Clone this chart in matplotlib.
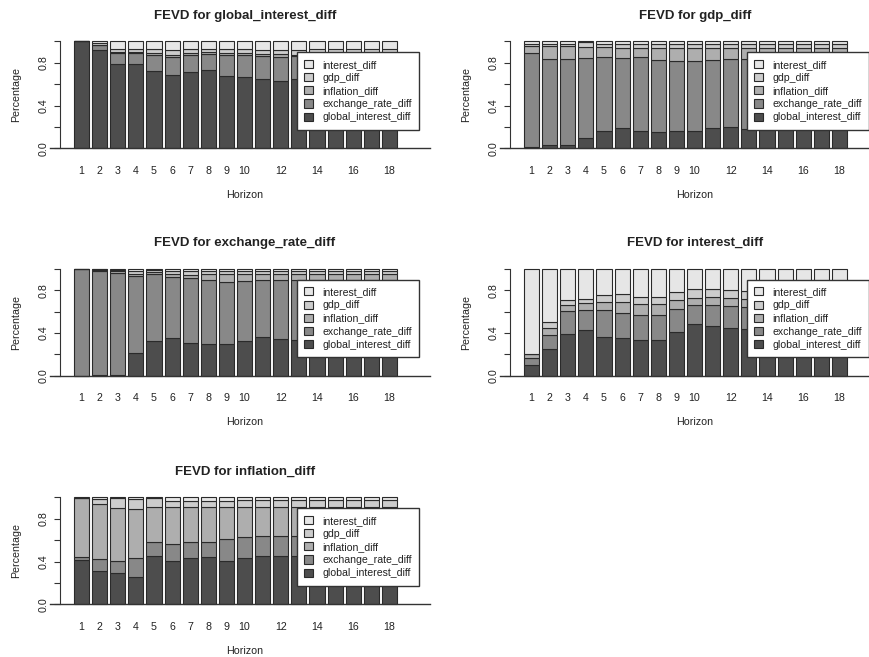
import matplotlib
matplotlib.use("Agg")
import matplotlib.pyplot as plt
from matplotlib.patches import Patch
import numpy as np

plt.rcParams["font.family"] = ["Liberation Sans", "DejaVu Sans"]

horizon = list(range(1, 19))
tick_labels = ["1", "2", "3", "4", "5", "6", "7", "8", "9", "10",
               "", "12", "", "14", "", "16", "", "18"]

shock_names = ["global_interest_diff", "exchange_rate_diff", "inflation_diff",
               "gdp_diff", "interest_diff"]
shock_colors = ["#4D4D4D", "#888888", "#AEAEAE", "#CCCCCC", "#E6E6E6"]

# shares per shock (rows follow shock_names), one column per horizon
fevd_global_interest = [
    [1.0, .92, .785, .785, .726, .682, .713, .729, .673, .664, .645, .626, .65, .64, .64, .64, .64, .64],
    [0.0, .045, .109, .103, .146, .175, .159, .151, .199, .211, .221, .231, .21, .22, .22, .22, .22, .22],
    [0.0, .005, .009, .012, .016, .015, .022, .017, .016, .013, .014, .021, .015, .015, .015, .015, .015, .015],
    [0.0, .01, .025, .03, .04, .048, .031, .033, .042, .042, .04, .042, .045, .05, .05, .05, .05, .05],
    [0.0, .02, .072, .07, .072, .08, .075, .07, .07, .07, .08, .08, .08, .075, .075, .075, .075, .075],
]
fevd_gdp = [
    [.012, .031, .031, .093, .159, .187, .159, .15, .159, .159, .187, .202, .178, .18, .18, .18, .18, .18],
    [.876, .804, .804, .748, .691, .654, .691, .676, .66, .66, .639, .63, .652, .65, .65, .65, .65, .65],
    [.068, .121, .121, .109, .094, .094, .085, .109, .116, .116, .109, .103, .105, .105, .105, .105, .105, .105],
    [.019, .02, .019, .04, .028, .037, .037, .037, .037, .037, .037, .037, .037, .037, .037, .037, .037, .037],
    [.025, .024, .025, .01, .028, .028, .028, .028, .028, .028, .028, .028, .028, .028, .028, .028, .028, .028],
]
fevd_exchange_rate = [
    [0.0, .003, .002, .211, .328, .353, .306, .30, .30, .328, .363, .347, .33, .33, .33, .33, .33, .33],
    [.995, .975, .96, .719, .618, .567, .606, .59, .58, .555, .527, .543, .56, .56, .56, .56, .56, .56],
    [.002, .01, .02, .023, .022, .033, .031, .063, .073, .07, .063, .063, .063, .063, .063, .063, .063, .063],
    [.002, .005, .01, .025, .022, .022, .032, .022, .022, .022, .022, .022, .022, .022, .022, .022, .022, .022],
    [.001, .007, .008, .022, .01, .025, .025, .025, .025, .025, .025, .025, .025, .025, .025, .025, .025, .025],
]
fevd_interest = [
    [.10, .25, .39, .425, .366, .348, .332, .332, .407, .481, .463, .45, .44, .44, .44, .44, .44, .44],
    [.07, .135, .215, .19, .249, .236, .236, .236, .214, .18, .198, .202, .20, .20, .20, .20, .20, .20],
    [.03, .065, .055, .06, .075, .106, .10, .10, .087, .069, .075, .078, .08, .08, .08, .08, .08, .08],
    [.005, .05, .05, .045, .06, .077, .068, .068, .078, .077, .071, .07, .07, .07, .07, .07, .07, .07],
    [.795, .50, .29, .28, .25, .233, .264, .264, .214, .193, .193, .20, .21, .21, .21, .21, .21, .21],
]
fevd_inflation = [
    [.41, .31, .29, .259, .452, .408, .43, .439, .408, .43, .449, .449, .449, .449, .449, .449, .449, .449],
    [.035, .11, .115, .177, .127, .156, .149, .147, .199, .196, .193, .193, .193, .193, .193, .193, .193, .193],
    [.545, .515, .492, .452, .334, .343, .328, .321, .30, .281, .271, .265, .268, .268, .268, .268, .268, .268],
    [.005, .049, .093, .096, .077, .062, .062, .062, .062, .068, .062, .068, .065, .065, .065, .065, .065, .065],
    [.005, .016, .01, .016, .01, .031, .031, .031, .031, .025, .025, .025, .025, .025, .025, .025, .025, .025],
]

panels = [
    ("global_interest_diff", fevd_global_interest, 0, 0),
    ("gdp_diff", fevd_gdp, 0, 1),
    ("exchange_rate_diff", fevd_exchange_rate, 1, 0),
    ("interest_diff", fevd_interest, 1, 1),
    ("inflation_diff", fevd_inflation, 2, 0),
]

W, H = 870, 657
zero_px = [148.3, 375.7, 604.3]
unit_px = 107.0
txt = "#222222"

fig = plt.figure(figsize=(W / 100, H / 100), dpi=100)

pos = 0.7 + 1.2 * np.arange(len(horizon))

for name, shares, row, col in panels:
    left = (60 + 450 * col) / W
    bottom_px = zero_px[row] + 0.04 * unit_px
    ax = fig.add_axes([left, 1 - bottom_px / H, 370 / W, 1.08 * unit_px / H])
    shares = np.array(shares)
    base = np.zeros(len(horizon))
    for k in range(len(shock_names)):
        ax.bar(pos, shares[k], width=1.0, bottom=base, color=shock_colors[k],
               edgecolor="#2a2a2a", linewidth=0.8)
        base = base + shares[k]
    ax.set_xlim(-0.728, 23.79)
    ax.set_ylim(-0.04, 1.04)
    ax.plot([-1.39, 23.79], [0, 0], color="#333333", lw=1.0, clip_on=False)

    for s in ["top", "right", "bottom"]:
        ax.spines[s].set_visible(False)
    ax.spines["left"].set_bounds(0, 1)
    ax.spines["left"].set_color("#333333")

    ax.set_xticks(pos)
    ax.set_xticklabels(tick_labels, fontsize=7.7, color=txt)
    ax.tick_params(axis="x", length=0, pad=9.5)
    ax.set_yticks([0, 0.2, 0.4, 0.6, 0.8, 1.0])
    ax.set_yticklabels(["0.0", "", "0.4", "", "0.8", ""], fontsize=7.7,
                       color=txt, rotation=90, va="center")
    ax.tick_params(axis="y", length=4.3, pad=4, color="#333333")

    ax.text(0.5, 1.185, f"FEVD for {name}", transform=ax.transAxes,
            ha="center", va="center", fontsize=9.5, fontweight="bold", color=txt)
    ax.set_xlabel("Horizon", fontsize=7.7, color=txt, va="center")
    ax.xaxis.set_label_coords(0.5, -0.367)
    ax.set_ylabel("Percentage", fontsize=7.7, color=txt, va="center")
    ax.yaxis.set_label_coords(-0.119, 0.5)

    handles = [Patch(facecolor=shock_colors[k], edgecolor="#2a2a2a", linewidth=0.8)
               for k in range(len(shock_names))][::-1]
    leg = ax.legend(handles, shock_names[::-1], loc="upper right",
                    bbox_to_anchor=(0.97, 0.868), fontsize=7.6, frameon=True,
                    fancybox=False, framealpha=1, edgecolor="#333333",
                    handlelength=0.8, handleheight=0.8, handletextpad=0.9,
                    labelspacing=0.3, borderpad=0.7, borderaxespad=0)
    leg.get_frame().set_linewidth(1.0)
    for t in leg.get_texts():
        t.set_color(txt)

fig.savefig("out.png", dpi=100)
